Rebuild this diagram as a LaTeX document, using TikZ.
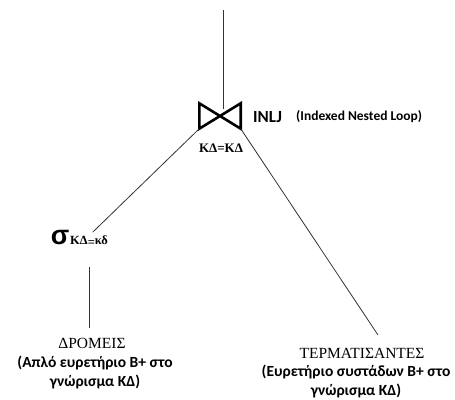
\documentclass[tikz,border=0pt]{standalone}
\usepackage{fontspec}
\setmainfont{Liberation Serif}
\newfontfamily\calibri{Carlito}
\newfontfamily\arialfam{Liberation Sans}
\begin{document}
\begin{tikzpicture}[x=1pt,y=-1pt,
  edge/.style={draw=black!80, line width=0.8pt},
  bowtie/.style={draw=black, line width=2.6pt, line join=miter, miter limit=3},
  serifbold/.style={font=\bfseries\fontsize{13}{15}\selectfont, inner sep=0pt},
  seriftitle/.style={font=\fontsize{15.5}{18}\selectfont, inner sep=0pt},
  desc/.style={font=\calibri\bfseries\fontsize{15.5}{19}\selectfont, align=center, inner sep=0pt},
]
\useasboundingbox (0,0) rectangle (455,399);

% join operator
\node[minimum width=41pt, minimum height=25pt, inner sep=0pt] (join) at (220,116) {};
\draw[bowtie] (join.north west) -- (join.south west) -- (join.north east)
  -- (join.south east) -- cycle;
\node[anchor=west, inner sep=0pt, font=\calibri\bfseries\fontsize{17}{20}\selectfont] (inlj) at (253,117) {INLJ};
\node[anchor=west, inner sep=0pt, font=\calibri\bfseries\fontsize{13.5}{16}\selectfont] (inljdesc) at (296,117) {(Indexed Nested Loop)};
\node[serifbold] (cond) at (221,148) {KΔ=KΔ};

% selection
\node[inner sep=0pt, font=\arialfam\bfseries\fontsize{27}{30}\selectfont] (sigma) at (60,237) {σ};
\node[anchor=west, inner sep=0pt, font=\bfseries\fontsize{12.5}{14}\selectfont] (sub) at (70,241) {KΔ\raisebox{-1.5pt}{=}κδ};

% relations
\node[seriftitle] (dromeis) at (92,343) {ΔΡΟΜΕΙΣ};
\node[desc] (dromeisdesc) at (95,372) {(Απλό ευρετήριο B+ στο\\γνώρισμα ΚΔ)};
\node[seriftitle] (termat) at (362,353) {ΤΕΡΜΑΤΙΣΑΝΤΕΣ};
\node[desc] (termatdesc) at (356,381) {(Ευρετήριο συστάδων B+ στο\\γνώρισμα ΚΔ)};

% tree edges
\coordinate (top) at (223,10);
\coordinate (tend) at (378,335);
\draw[edge] (top) -- ([yshift=-6pt]top |- join.north);
\draw[edge, shorten >=5pt] (join.south west) -- (sub.north);
\draw[edge] (join.south east) -- (tend);
\draw[edge, shorten <=21pt, shorten >=10pt] (sub.south) -- (sub.south |- dromeis.north);
\end{tikzpicture}
\end{document}
